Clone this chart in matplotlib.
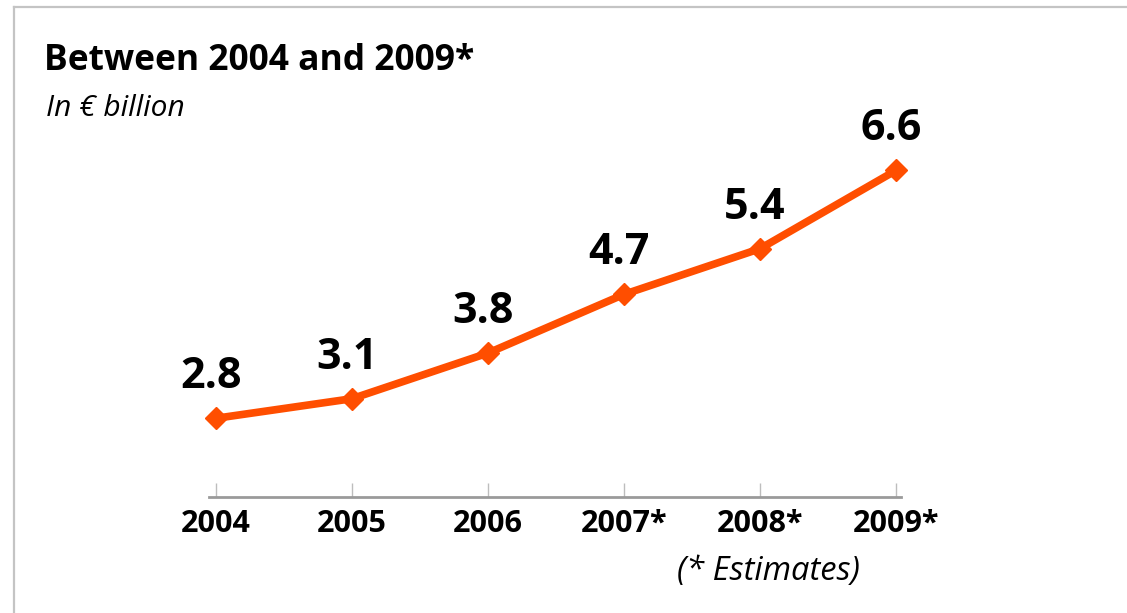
import matplotlib
matplotlib.use("Agg")
import matplotlib.pyplot as plt
from matplotlib.lines import Line2D

# --- data ---
years = ["2004", "2005", "2006", "2007*", "2008*", "2009*"]
values = [2.8, 3.1, 3.8, 4.7, 5.4, 6.6]
labels = ["2.8", "3.1", "3.8", "4.7", "5.4", "6.6"]

W, H = 1127, 613
plt.rcParams['font.family'] = ['Open Sans', 'DejaVu Sans']

fig = plt.figure(figsize=(W / 100, H / 100), dpi=100)
fig.patch.set_facecolor("white")

# light frame on top and left only
fig.add_artist(Line2D([13.5 / W, 13.5 / W], [0, 1 - 7 / H], color="#c4c4c4", lw=1.6))
fig.add_artist(Line2D([13.5 / W, 1], [1 - 7 / H, 1 - 7 / H], color="#c4c4c4", lw=1.6))

ax = fig.add_axes([209 / W, (H - 497) / H, 692 / W, 397 / H])
x = list(range(len(years)))
ax.plot(x, values, color="#ff4e00", lw=5.5, marker="D", markersize=11.5,
        solid_joinstyle="miter", clip_on=False)
ax.set_xlim(-0.051, 5.037)
ax.set_ylim(1.593, 7.68)

for xi, v, lab in zip(x, values, labels):
    ax.annotate(lab, (xi, v), xytext=(-5, 30), textcoords="offset pixels",
                ha="center", va="baseline", fontsize=31, fontweight="bold", color="black")

for s in ["top", "right", "left"]:
    ax.spines[s].set_visible(False)
ax.spines["bottom"].set_color("#9a9a9a")
ax.spines["bottom"].set_linewidth(2)
ax.set_yticks([])
ax.set_xticks(x)
ax.set_xticklabels(years, fontsize=22, fontweight="bold")
ax.tick_params(axis="x", direction="in", length=10, width=1, color="#bdbdbd", pad=9)

fig.text(44 / W, 1 - 70 / H, "Between 2004 and 2009*", fontsize=25.5, fontweight="bold",
         ha="left", va="baseline")
fig.text(46 / W, 1 - 116 / H, "In € billion", fontsize=21.5, style="italic",
         ha="left", va="baseline")
fig.text(677 / W, 1 - 580 / H, "(* Estimates)", fontsize=23.5, style="italic",
         ha="left", va="baseline")

fig.savefig("out.png", dpi=100, facecolor="white")
